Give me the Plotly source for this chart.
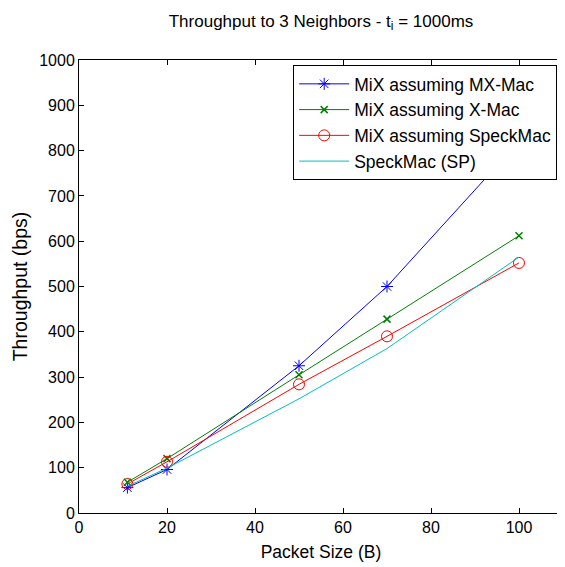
import plotly.graph_objects as go

packet_size = [11, 20, 50, 70, 100]
mix_mxmac = [56, 96, 325, 500, 820]
mix_xmac = [68, 120, 305, 428, 612]
mix_speckmac = [64, 113, 284, 390, 552]
speckmac_sp = [59, 99, 252, 363, 565]

x_ticks = [0, 20, 40, 60, 80, 100]
y_ticks = list(range(0, 1001, 100))

FONT = "Liberation Sans, Arial, sans-serif"

fig = go.Figure()
fig.add_trace(go.Scatter(x=packet_size, y=mix_mxmac, name="MiX assuming MX-Mac",
                         mode="lines+markers", line=dict(color="#0000ff", width=1),
                         marker=dict(symbol="asterisk-open", size=10, color="#0000ff",
                                     line=dict(color="#0000ff", width=1))))
fig.add_trace(go.Scatter(x=packet_size, y=mix_xmac, name="MiX assuming X-Mac",
                         mode="lines+markers", line=dict(color="#008000", width=1),
                         marker=dict(symbol="x-thin-open", size=7, color="#008000",
                                     line=dict(color="#008000", width=1.5))))
fig.add_trace(go.Scatter(x=packet_size, y=mix_speckmac, name="MiX assuming SpeckMac",
                         mode="lines+markers", line=dict(color="#ff0000", width=1),
                         marker=dict(symbol="circle-open", size=11, color="#ff0000",
                                     line=dict(color="#ff0000", width=1))))
fig.add_trace(go.Scatter(x=packet_size, y=speckmac_sp, name="SpeckMac (SP)",
                         mode="lines", line=dict(color="#00bfbf", width=1)))

# page body has an 8px margin, so the figure is sized/offset to compensate
fig.update_layout(
    width=557, height=559,
    margin=dict(l=71, r=2, t=52, b=54),
    paper_bgcolor="white", plot_bgcolor="white",
    font=dict(family=FONT, size=16, color="black"),
    title=dict(text="Throughput to 3 Neighbors - t<sub>i</sub> = 1000ms",
               x=0.562, xanchor="center", y=0.977, yanchor="middle",
               font=dict(size=17, family=FONT)),
    showlegend=True,
    legend=dict(x=0.988, xanchor="right", y=0.989, yanchor="top",
                bgcolor="white", bordercolor="black", borderwidth=1,
                font=dict(size=17.5, family=FONT), tracegroupgap=0,
                itemwidth=50),
)
fig.update_xaxes(range=[0, 110], tickvals=x_ticks, showgrid=False, zeroline=False,
                 showline=True, linecolor="black", linewidth=1, mirror="ticks",
                 ticks="inside", ticklen=5, tickcolor="black", automargin=False,
                 title=dict(text="Packet Size (B)", standoff=10, font=dict(size=17.5)),
                 tickfont=dict(size=16))
fig.update_yaxes(range=[0, 1000], tickvals=y_ticks, showgrid=False, zeroline=False,
                 showline=True, linecolor="black", linewidth=1, mirror="ticks",
                 ticks="inside", ticklen=5, tickcolor="black", automargin=False,
                 title=dict(text="Throughput (bps)", standoff=6, font=dict(size=19.5)),
                 tickfont=dict(size=16))

fig.write_html("out.html")
